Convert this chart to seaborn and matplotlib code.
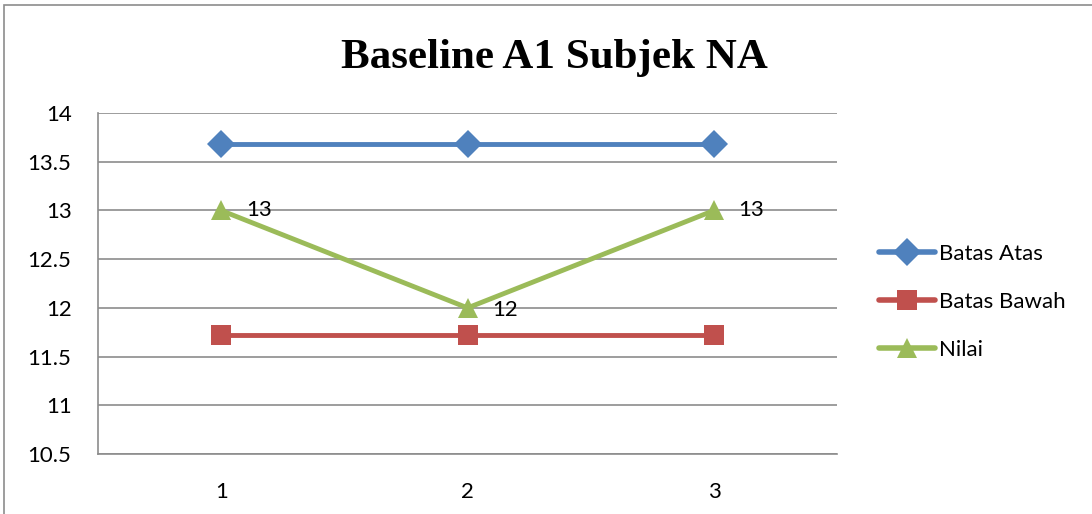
import pandas as pd
import seaborn as sns
import matplotlib.pyplot as plt
from matplotlib.patches import Rectangle

# chart data
sesi = [1, 2, 3]
batas_atas = [13.68, 13.68, 13.68]
batas_bawah = [11.72, 11.72, 11.72]
nilai = [13, 12, 13]

df = pd.DataFrame({
    'Sesi': sesi * 3,
    'Skor': batas_atas + batas_bawah + nilai,
    'Seri': ['Batas Atas'] * 3 + ['Batas Bawah'] * 3 + ['Nilai'] * 3,
})

sns.set_style('white')
plt.rcParams['font.family'] = ['Lato', 'DejaVu Sans']
plt.rcParams['text.color'] = 'black'
plt.rcParams['xtick.color'] = 'black'
plt.rcParams['ytick.color'] = 'black'

palette = {'Batas Atas': '#4F81BD', 'Batas Bawah': '#C0504D', 'Nilai': '#9BBB59'}
markers = {'Batas Atas': 'D', 'Batas Bawah': 's', 'Nilai': '^'}

fig = plt.figure(figsize=(10.92, 5.14), dpi=100)
ax = fig.add_axes([0.0897, 0.1167, 0.677, 0.6633])

sns.lineplot(data=df, x='Sesi', y='Skor', hue='Seri', style='Seri',
             palette=palette, markers=markers, dashes=False,
             linewidth=3.5, markersize=14, markeredgewidth=0, ax=ax)

# data labels for Nilai
for x, y in zip(sesi, nilai):
    dy = -0.02 if y == 12 else 0
    ax.text(x + 0.1, y + dy, str(y), fontsize=16, va='center', ha='left')

ax.set_xlim(0.5, 3.5)
ax.set_ylim(10.5, 14)
ax.set_xticks(sesi)
ax.set_xticklabels([str(s) for s in sesi])
ax.set_yticks([10.5, 11, 11.5, 12, 12.5, 13, 13.5, 14])
ax.set_yticklabels(['10.5', '11', '11.5', '12', '12.5', '13', '13.5', '14'])
ax.tick_params(axis='both', labelsize=16, length=0)
ax.tick_params(axis='y', pad=19)
ax.tick_params(axis='x', pad=20)
ax.grid(axis='y', color='#8C8C8C', linewidth=1.2)
ax.set_axisbelow(True)
for side in ['top', 'right']:
    ax.spines[side].set_visible(False)
for side in ['left', 'bottom']:
    ax.spines[side].set_color('#8C8C8C')
    ax.spines[side].set_linewidth(1.2)
ax.set_xlabel('')
ax.set_ylabel('')

fig.suptitle('Baseline A1 Subjek NA', x=0.508, y=0.925, fontsize=31,
             fontweight='bold', family='Liberation Serif', color='black')

leg = ax.legend(loc='center left', bbox_to_anchor=(1.03, 0.446), frameon=False,
                fontsize=16, handlelength=2.5, handletextpad=0.2, labelspacing=1.25)
for h in leg.legend_handles:
    h.set_linewidth(4)
    h.set_markersize(14)

# chart border
fig.patches.append(Rectangle((0.004, -0.01), 1.2, 1.0, transform=fig.transFigure,
                             fill=False, edgecolor='#8C8C8C', linewidth=1.2))

plt.savefig('out.png', dpi=100)
